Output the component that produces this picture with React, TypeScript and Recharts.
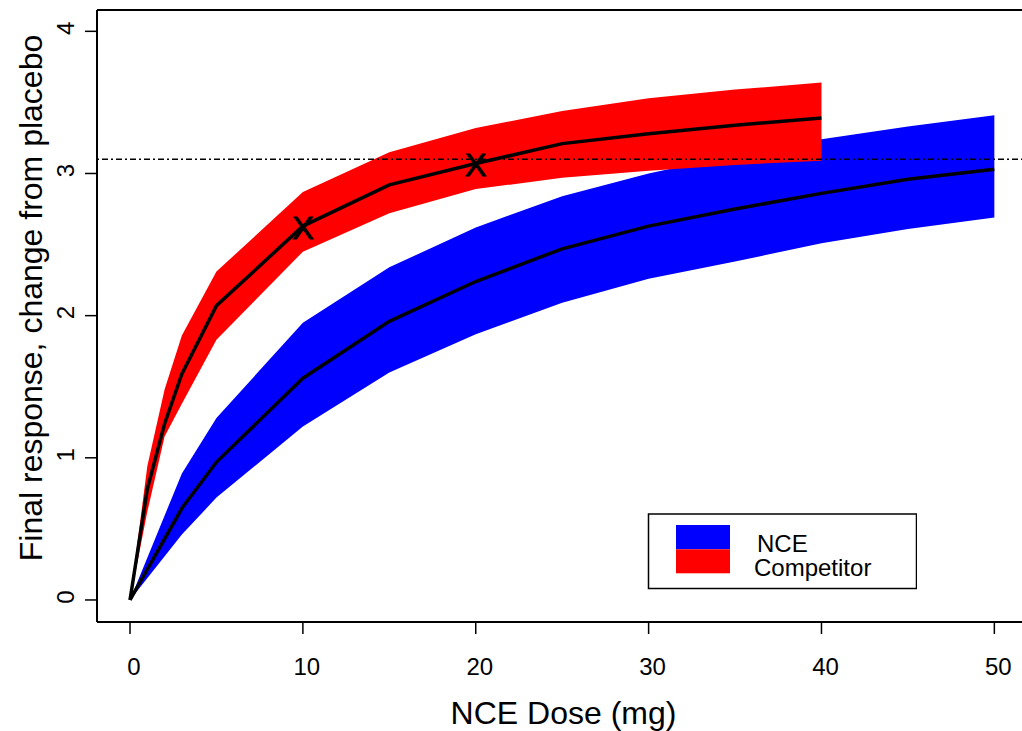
import React from 'react'
import { ComposedChart, Area, Line, XAxis, YAxis, ReferenceLine, Scatter, Legend, Label } from 'recharts'

const FONT = '"Liberation Sans", Arial, Helvetica, sans-serif'

// competitor (red) dose-response with band
const competitorDose = [0, 1, 2, 3, 5, 10, 15, 20, 25, 30, 35, 40]
const competitorMid = [0, 0.78, 1.24, 1.59, 2.07, 2.63, 2.92, 3.07, 3.21, 3.28, 3.34, 3.39]
const competitorLow = [0, 0.62, 1.15, 1.38, 1.83, 2.45, 2.72, 2.89, 2.97, 3.02, 3.06, 3.09]
const competitorHigh = [0, 0.94, 1.48, 1.86, 2.31, 2.87, 3.15, 3.32, 3.44, 3.53, 3.59, 3.64]

// NCE (blue) dose-response with band
const nceDose = [0, 3, 5, 10, 15, 20, 25, 30, 35, 40, 45, 50]
const nceMid = [0, 0.645, 0.97, 1.56, 1.96, 2.24, 2.47, 2.63, 2.75, 2.86, 2.96, 3.03]
const nceLow = [0, 0.46, 0.72, 1.22, 1.6, 1.87, 2.09, 2.26, 2.38, 2.51, 2.61, 2.69]
const nceHigh = [0, 0.89, 1.28, 1.95, 2.34, 2.62, 2.84, 3.0, 3.13, 3.24, 3.33, 3.41]

const markerDose = [10, 20]
const markerResponse = [2.62, 3.06]
const targetResponse = 3.1

const xTicks = [0, 10, 20, 30, 40, 50]
const yTicks = [0, 1, 2, 3, 4]

const X_DOMAIN: [number, number] = [-1.91, 51.6]
const Y_DOMAIN: [number, number] = [-0.155, 4.15]

const competitor = competitorDose.map((x, i) => ({
  x, mid: competitorMid[i], lo: competitorLow[i], hi: competitorHigh[i],
}))
const nce = nceDose.map((x, i) => ({
  x, mid: nceMid[i], lo: nceLow[i], hi: nceHigh[i],
}))
const markers = markerDose.map((x, i) => ({ x, y: markerResponse[i] }))

const XTick = ({ x, y, payload }: any) => (
  <text x={x + 4} y={y + 39} textAnchor="middle" fontSize={24} fontFamily={FONT} fill="#000">
    {payload.value}
  </text>
)

const YTick = ({ x, y, payload }: any) => (
  <text
    transform={`translate(${x - 18},${y - 3}) rotate(-90)`}
    textAnchor="middle"
    dominantBaseline="central"
    fontSize={24}
    fontFamily={FONT}
    fill="#000"
  >
    {payload.value}
  </text>
)

const XTitle = ({ viewBox }: any) => (
  <text
    x={viewBox.x + viewBox.width / 2 + 4}
    y={viewBox.y + 102}
    textAnchor="middle"
    fontSize={32}
    fontFamily={FONT}
    fill="#000"
  >
    NCE Dose (mg)
  </text>
)

const YTitle = ({ viewBox }: any) => (
  <text
    transform={`translate(${viewBox.x + 31},${viewBox.y + 288}) rotate(-90)`}
    textAnchor="middle"
    dominantBaseline="central"
    fontSize={32}
    fontFamily={FONT}
    fill="#000"
  >
    Final response, change from placebo
  </text>
)

const XMark = ({ cx, cy }: any) => (
  <text
    x={cx}
    y={cy}
    textAnchor="middle"
    dominantBaseline="central"
    fontSize={32}
    fontFamily={FONT}
    fill="#000"
    stroke="#000"
    strokeWidth={1}
  >
    X
  </text>
)

const LegendBox = () => (
  <svg width={270} height={77} style={{ display: 'block' }}>
    <rect x={1.5} y={1} width={268} height={74.5} fill="#fff" stroke="#000" strokeWidth={1.5} />
    <rect x={29} y={12} width={54} height={24.3} fill="#0000ff" />
    <rect x={29} y={36.3} width={54} height={24} fill="#ff0000" />
    <text x={110} y={38.5} fontSize={24} fontFamily={FONT} fill="#000">NCE</text>
    <text x={107} y={63} fontSize={24} fontFamily={FONT} fill="#000">Competitor</text>
  </svg>
)

export default function App() {
  return (
    <div style={{ position: 'absolute', left: 0, top: 0, fontFamily: FONT, background: '#fff' }}>
      <ComposedChart width={1022} height={731} margin={{ top: 10, right: 0, bottom: 0, left: 0 }}>
        <XAxis
          type="number"
          dataKey="x"
          domain={X_DOMAIN}
          ticks={xTicks}
          allowDataOverflow
          height={109}
          tickSize={12}
          tick={<XTick />}
          axisLine={{ stroke: '#000', strokeWidth: 2 }}
          tickLine={{ stroke: '#000', strokeWidth: 1.5 }}
        >
          <Label content={<XTitle />} />
        </XAxis>
        <YAxis
          type="number"
          domain={Y_DOMAIN}
          ticks={yTicks}
          allowDataOverflow
          width={97}
          tickSize={12}
          tick={<YTick />}
          axisLine={{ stroke: '#000', strokeWidth: 2 }}
          tickLine={{ stroke: '#000', strokeWidth: 1.5 }}
        >
          <Label content={<YTitle />} />
        </YAxis>
        <ReferenceLine y={Y_DOMAIN[1]} stroke="#000" strokeWidth={2} />
        <Area
          data={nce}
          type="linear"
          dataKey={(d: any) => [d.lo, d.hi]}
          stroke="none"
          fill="#0000ff"
          fillOpacity={1}
          isAnimationActive={false}
        />
        <Area
          data={competitor}
          type="linear"
          dataKey={(d: any) => [d.lo, d.hi]}
          stroke="none"
          fill="#ff0000"
          fillOpacity={1}
          isAnimationActive={false}
        />
        <Line data={nce} type="linear" dataKey="mid" stroke="#000" strokeWidth={3.5} dot={false} isAnimationActive={false} />
        <Line data={competitor} type="linear" dataKey="mid" stroke="#000" strokeWidth={3.5} dot={false} isAnimationActive={false} />
        <ReferenceLine y={targetResponse} stroke="#000" strokeWidth={1.6} strokeDasharray="2 3 6 3" />
        <Scatter data={markers} dataKey="y" shape={<XMark />} isAnimationActive={false} />
        <Legend
          layout="horizontal"
          verticalAlign="middle"
          align="center"
          content={<LegendBox />}
          wrapperStyle={{ left: 647, top: 513, width: 270, height: 77 }}
        />
      </ComposedChart>
    </div>
  )
}
